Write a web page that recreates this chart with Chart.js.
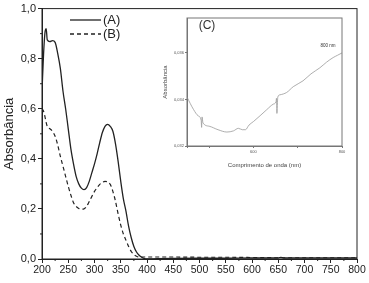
<!DOCTYPE html>
<html>
<head>
<meta charset="utf-8">
<script src="https://cdn.jsdelivr.net/npm/chart.js@4.4.1/dist/chart.umd.min.js"></script>
<style>
  html, body { margin: 0; padding: 0; background: #fff; }
  #wrap { position: relative; width: 369px; height: 283px; }
  #main { position: absolute; left: 0; top: 0; }
  #inset { position: absolute; left: 160px; top: 10px; }
</style>
</head>
<body>
<div id="wrap">
  <canvas id="main" width="369" height="283"></canvas>
  <canvas id="inset" width="190" height="160"></canvas>
</div>
<script>
// main spectra (A) and (B)
const wavelength = [200, 203, 206, 208, 210, 215, 220, 225, 230, 235, 240, 245, 250, 255, 260, 265, 270, 275, 280, 285, 290, 295, 300, 305, 310, 315, 320, 325, 330, 335, 340, 345, 350, 355, 360, 365, 370, 375, 380, 385, 390, 395, 400, 420, 450, 500, 550, 600, 650, 655, 660, 700, 750, 800];
const absA = [0.67, 0.82, 0.91, 0.92, 0.875, 0.868, 0.872, 0.865, 0.82, 0.76, 0.67, 0.60, 0.52, 0.44, 0.38, 0.33, 0.30, 0.283, 0.277, 0.285, 0.31, 0.345, 0.38, 0.42, 0.465, 0.505, 0.53, 0.538, 0.53, 0.51, 0.46, 0.39, 0.31, 0.24, 0.19, 0.13, 0.085, 0.05, 0.028, 0.015, 0.007, 0.002, 0.0, 0.001, 0.002, 0.003, 0.003, 0.004, 0.004, 0.006, 0.004, 0.004, 0.004, 0.004];
const absB = [0.60, 0.59, 0.565, 0.545, 0.53, 0.52, 0.51, 0.49, 0.455, 0.41, 0.37, 0.33, 0.29, 0.255, 0.225, 0.21, 0.202, 0.199, 0.2, 0.21, 0.23, 0.25, 0.27, 0.285, 0.298, 0.306, 0.31, 0.308, 0.298, 0.27, 0.23, 0.18, 0.135, 0.1, 0.075, 0.05, 0.03, 0.018, 0.011, 0.008, 0.008, 0.008, 0.008, 0.008, 0.008, 0.007, 0.007, 0.006, 0.005, 0.006, 0.005, 0.005, 0.005, 0.005];

// inset (C)
const insetWl = [450, 465, 475, 482, 483, 484, 486, 500, 520, 540, 555, 566, 575, 582, 590, 600, 615, 630, 645, 651, 652, 653, 655, 660, 675, 690, 712, 730, 750, 765, 780, 790, 800];
const insetAbs = [0.0341, 0.03356, 0.0333, 0.0331, 0.0328, 0.03325, 0.0330, 0.03285, 0.0327, 0.0326, 0.03265, 0.03276, 0.0327, 0.0327, 0.0329, 0.03305, 0.0333, 0.03356, 0.0338, 0.0339, 0.03405, 0.0334, 0.0341, 0.0342, 0.0343, 0.03455, 0.0348, 0.0351, 0.03536, 0.0356, 0.0358, 0.0359, 0.0360];

const legendNames = ['(A)', '(B)'];

Chart.defaults.font.family = 'Arial, "Liberation Sans", sans-serif';
Chart.defaults.color = '#222';

const ink = '#222';

// box around the plot + minor ticks
const frame = {
  id: 'frame',
  afterDraw(chart, args, opts) {
    const { ctx, chartArea: a, scales } = chart;
    ctx.save();
    ctx.strokeStyle = opts.color;
    ctx.lineWidth = 1;
    ctx.strokeRect(a.left, a.top, a.right - a.left, a.bottom - a.top);
    ctx.beginPath();
    (opts.xMinor || []).forEach(v => {
      let px = scales.x.getPixelForValue(v);
      ctx.moveTo(px, a.bottom);
      ctx.lineTo(px, a.bottom + 2);
    });
    (opts.yMinor || []).forEach(v => {
      let py = scales.y.getPixelForValue(v);
      ctx.moveTo(a.left, py);
      ctx.lineTo(a.left - 2, py);
    });
    ctx.stroke();
    ctx.restore();
  }
};

// legend drawn inside the plot, top left
const innerLegend = {
  id: 'innerLegend',
  afterDraw(chart) {
    const ctx = chart.ctx;
    ctx.save();
    ctx.strokeStyle = ink;
    ctx.fillStyle = ink;
    ctx.lineWidth = 1.3;
    ctx.font = '13px Arial, "Liberation Sans", sans-serif';
    ctx.textBaseline = 'middle';
    chart.data.datasets.forEach((ds, i) => {
      let y = 20 + i * 14;
      ctx.setLineDash(ds.borderDash || []);
      ctx.beginPath();
      ctx.moveTo(70, y);
      ctx.lineTo(101, y);
      ctx.stroke();
      ctx.setLineDash([]);
      ctx.fillText(legendNames[i], 103, y);
    });
    ctx.restore();
  }
};

const xMinor = [];
for (let v = 225; v < 800; v += 50) xMinor.push(v);
const yMinor = [0.1, 0.3, 0.5, 0.7, 0.9];

new Chart(document.getElementById('main'), {
  type: 'line',
  data: {
    datasets: [{
      label: '(A)',
      data: wavelength.map((w, i) => ({ x: w, y: absA[i] })),
      borderColor: ink,
      borderWidth: 1.3,
      pointRadius: 0,
      cubicInterpolationMode: 'monotone'
    }, {
      label: '(B)',
      data: wavelength.map((w, i) => ({ x: w, y: absB[i] })),
      borderColor: ink,
      borderWidth: 1.2,
      borderDash: [4, 3],
      pointRadius: 0,
      cubicInterpolationMode: 'monotone'
    }]
  },
  options: {
    responsive: false,
    animation: false,
    layout: { padding: { top: 7, right: 12, left: 0, bottom: 0 } },
    plugins: {
      legend: { display: false },
      tooltip: { enabled: false },
      frame: { color: ink, xMinor: xMinor, yMinor: yMinor }
    },
    scales: {
      x: {
        type: 'linear',
        min: 200,
        max: 800,
        ticks: { stepSize: 50, font: { size: 10.5 }, color: ink, padding: 1, maxRotation: 0 },
        grid: { drawOnChartArea: false, tickLength: 4, color: ink },
        border: { color: ink },
        afterFit: s => { s.height = 24; }
      },
      y: {
        min: 0,
        max: 1,
        ticks: {
          stepSize: 0.2,
          font: { size: 11 },
          color: ink,
          padding: 2,
          callback: v => v.toFixed(1).replace('.', ',')
        },
        grid: { drawOnChartArea: false, tickLength: 4, color: ink },
        border: { color: ink },
        title: { display: true, text: 'Absorbância', font: { size: 13 }, color: ink, padding: 2 },
        afterFit: s => { s.width = 42; }
      }
    }
  },
  plugins: [frame, innerLegend]
});

// inset labels
const insetNotes = {
  id: 'insetNotes',
  afterDraw(chart) {
    const { ctx, chartArea: a } = chart;
    ctx.save();
    ctx.fillStyle = '#333';
    ctx.textBaseline = 'middle';
    ctx.textAlign = 'center';
    ctx.font = '12px Arial, "Liberation Sans", sans-serif';
    ctx.fillText('(C)', a.left + 20, a.top + 8);
    ctx.font = '4.5px Arial, "Liberation Sans", sans-serif';
    ctx.fillText('800 nm', a.right - 14, a.top + 28);
    ctx.restore();
  }
};

new Chart(document.getElementById('inset'), {
  type: 'line',
  data: {
    datasets: [{
      label: '(C)',
      data: insetWl.map((w, i) => ({ x: w, y: insetAbs[i] })),
      borderColor: '#999',
      borderWidth: 0.8,
      pointRadius: 0,
      cubicInterpolationMode: 'monotone'
    }]
  },
  options: {
    responsive: false,
    animation: false,
    layout: { padding: { top: 8, right: 8, left: 0, bottom: 0 } },
    plugins: {
      legend: { display: false },
      tooltip: { enabled: false },
      frame: { color: '#777' }
    },
    scales: {
      x: {
        type: 'linear',
        min: 450,
        max: 800,
        ticks: {
          stepSize: 100,
          font: { size: 4 },
          color: '#555',
          padding: 1,
          maxRotation: 0,
          autoSkip: false,
          callback: v => (v % 200 === 0 ? v : '')
        },
        grid: { drawOnChartArea: false, tickLength: 2, color: '#777' },
        border: { color: '#777' },
        title: { display: true, text: 'Comprimento de onda (nm)', font: { size: 6 }, color: '#444', padding: 1 },
        afterFit: s => { s.height = 24; }
      },
      y: {
        min: 0.032,
        max: 0.0375,
        ticks: {
          stepSize: 0.002,
          includeBounds: false,
          font: { size: 4 },
          color: '#555',
          padding: 1,
          callback: v => v.toFixed(3).replace('.', ',')
        },
        grid: { drawOnChartArea: false, tickLength: 2, color: '#777' },
        border: { color: '#777' },
        title: { display: true, text: 'Absorbância', font: { size: 6 }, color: '#444', padding: 2 },
        afterFit: s => { s.width = 27; }
      }
    }
  },
  plugins: [frame, insetNotes]
});
</script>
</body>
</html>
